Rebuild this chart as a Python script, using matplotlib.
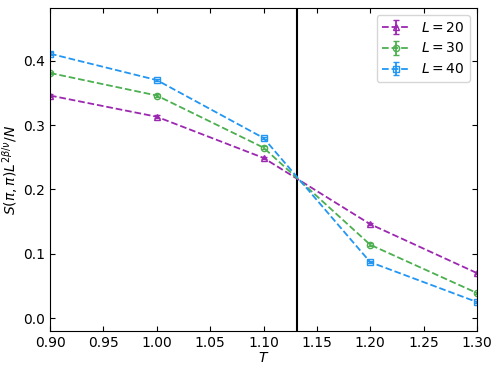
import numpy as np
import matplotlib.pyplot as plt

T = [0.9, 1.0, 1.1, 1.2, 1.3]
s20 = [0.346, 0.313, 0.249, 0.146, 0.070]
s30 = [0.381, 0.346, 0.265, 0.114, 0.039]
s40 = [0.411, 0.370, 0.280, 0.087, 0.025]
err = [0.002, 0.002, 0.002, 0.002, 0.002]
Tc = 1.131

fig = plt.figure(figsize=(4.98, 3.72), dpi=100)
ax = fig.add_axes([50 / 498, 1 - 331 / 372, 427 / 498, 323 / 372])

series = [(s20, 'L=20', '#9c27b0', '^'),
          (s30, 'L=30', '#4caf50', 'o'),
          (s40, 'L=40', '#2196f3', 's')]
for ys, lab, c, m in series:
    ax.errorbar(T, ys, yerr=err, color=c, ls='--', lw=1.3, marker=m, ms=4.5,
                mfc='none', capsize=2, label='$' + lab.replace('=', ' = ') + '$')

ax.axvline(Tc, color='k', lw=1.5)

ax.set_xlim(0.9, 1.3)
ax.set_ylim(-0.02, 0.482)
ax.set_xticks(np.arange(0.9, 1.301, 0.05))
ax.set_yticks([0.0, 0.1, 0.2, 0.3, 0.4])
ax.tick_params(direction='in', top=True, right=True)
ax.set_xlabel('$T$', labelpad=1)
ax.set_ylabel(r'$S(\pi,\pi)L^{2\beta/\nu}/N$', labelpad=2)
ax.legend(loc='upper right')

fig.savefig('out.png', dpi=100)
